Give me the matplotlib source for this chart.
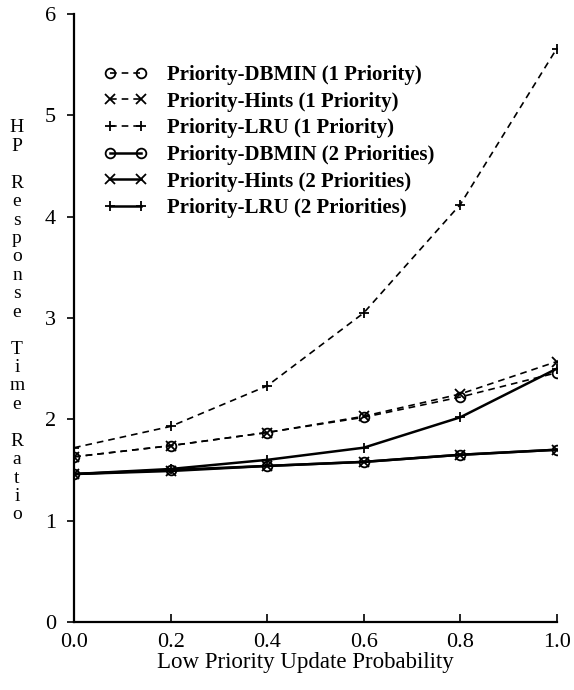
import matplotlib
matplotlib.use('Agg')
import matplotlib.pyplot as plt

# data
x = [0.0, 0.2, 0.4, 0.6, 0.8, 1.0]
dbmin_1p = [1.63, 1.74, 1.87, 2.02, 2.22, 2.46]
hints_1p = [1.63, 1.74, 1.87, 2.03, 2.25, 2.57]
lru_1p = [1.72, 1.93, 2.33, 3.05, 4.12, 5.66]
dbmin_2p = [1.46, 1.50, 1.54, 1.58, 1.65, 1.70]
hints_2p = [1.46, 1.49, 1.54, 1.58, 1.65, 1.70]
lru_2p = [1.46, 1.51, 1.60, 1.72, 2.02, 2.50]
labels = ['Priority-DBMIN (1 Priority)', 'Priority-Hints (1 Priority)',
          'Priority-LRU (1 Priority)', 'Priority-DBMIN (2 Priorities)',
          'Priority-Hints (2 Priorities)', 'Priority-LRU (2 Priorities)']
xticks = [0.0, 0.2, 0.4, 0.6, 0.8, 1.0]
yticks = [0, 1, 2, 3, 4, 5, 6]
ylabel_words = ['HP', 'Response', 'Time', 'Ratio']

plt.rcParams['font.family'] = ['Liberation Serif', 'DejaVu Serif']

fig = plt.figure(figsize=(5.74, 6.90), dpi=100)
ax = fig.add_axes([0.129, 0.0986, 0.841, 0.881])

dash = (0, (4, 3))
series = [dbmin_1p, hints_1p, lru_1p, dbmin_2p, hints_2p, lru_2p]
markers = ['o', 'x', '+', 'o', 'x', '+']
for k in range(6):
    if k < 3:
        ax.plot(x, series[k], color='black', linestyle=dash, lw=1.2,
                marker=markers[k], ms=7, mfc='none', mew=1.3, label=labels[k])
    else:
        ax.plot(x, series[k], color='black', linestyle='-', lw=1.8,
                marker=markers[k], ms=7, mfc='none', mew=1.3, label=labels[k])

ax.set_xlim(0, 1)
ax.set_ylim(0, 6)
ax.set_xticks(xticks)
ax.set_xticklabels(['%.1f' % v for v in xticks], fontsize=16)
ax.set_yticks(yticks)
ax.set_yticklabels([str(v) for v in yticks], fontsize=16)
ax.tick_params(axis='x', direction='in', length=6, width=1.2, pad=8)
ax.tick_params(axis='y', direction='out', length=5, width=1.2, pad=8)
ax.spines['top'].set_visible(False)
ax.spines['right'].set_visible(False)
ax.spines['left'].set_linewidth(1.6)
ax.spines['bottom'].set_linewidth(1.6)
ax.set_xlabel('Low Priority Update Probability', fontsize=16.5, labelpad=0)
ax.xaxis.label.set_x(0.479)

# stacked vertical y label, one letter per line
ypos = 128
for w, word in enumerate(ylabel_words):
    for c, ch in enumerate(word):
        fig.text(17 / 574, 1 - ypos / 690, ch, fontsize=14,
                 ha='center', va='center')
        if c < len(word) - 1:
            ypos += 18.4
    ypos += 37

leg = ax.legend(loc='upper left', bbox_to_anchor=(0.022, 0.947), frameon=False,
                handlelength=2.1, handletextpad=0.95, labelspacing=0.32,
                numpoints=2, prop={'weight': 'bold', 'size': 15})

fig.savefig('out.png', dpi=100)
